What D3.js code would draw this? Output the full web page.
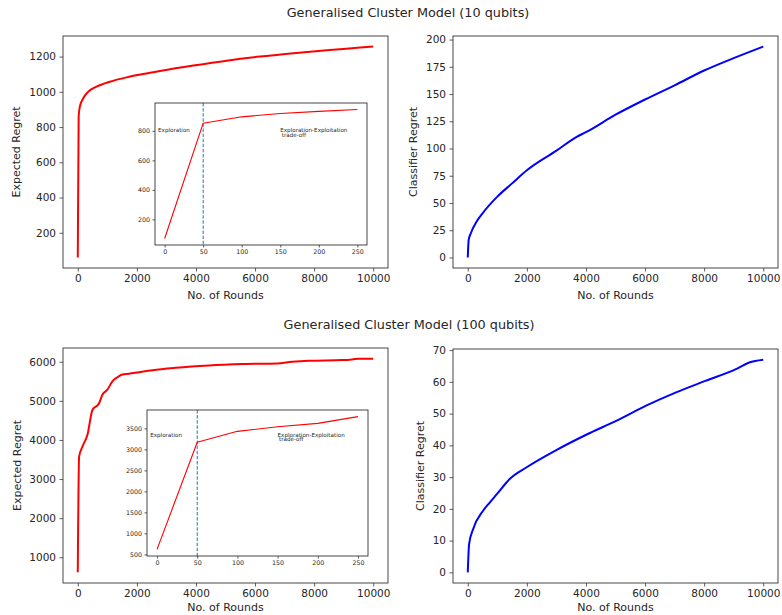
<!DOCTYPE html>
<html>
<head>
<meta charset="utf-8">
<script src="https://cdn.jsdelivr.net/npm/d3@7"></script>
<style>
    body { margin: 0; background: #fff; }
    text { font-family: "DejaVu Sans", sans-serif; fill: #262626; }
</style>
</head>
<body>
<svg id="chart" width="782" height="615"></svg>
<script>
// --- data ---
const roundsTicks = [0, 2000, 4000, 6000, 8000, 10000];

// 10 qubits, expected regret
const rounds10 = [0, 30, 68, 181, 350, 633, 1085, 1650, 2215, 2780, 3910, 5040, 6170, 7300, 8430, 9560, 10000];
const expRegret10 = [60, 860, 914, 962, 1000, 1029, 1057, 1082, 1101, 1118, 1149, 1177, 1200, 1219, 1236, 1251, 1257];
const expTicks10 = [200, 400, 600, 800, 1000, 1200];

// 10 qubits, inset (first 250 rounds)
const insetRounds10 = [0, 50, 100, 150, 200, 250];
const insetRegret10 = [70, 852, 895, 918, 932, 945];
const insetYTicks10 = [200, 400, 600, 800];

// 10 qubits, classifier regret
const clfRounds10 = [0, 30, 100, 300, 500, 1000, 1500, 2000, 3000, 3700, 4000, 5000, 6000, 7000, 8000, 9000, 10000];
const clfRegret10 = [0, 16, 22, 33, 40.5, 55.8, 68, 80, 98, 111, 115, 131, 145, 158, 171.6, 183, 193.6];
const clfTicks10 = [0, 25, 50, 75, 100, 125, 150, 175, 200];

// 100 qubits, expected regret
const rounds100 = [0, 45, 158, 327, 496, 722, 834, 1003, 1172, 1342, 1511, 1736, 2074, 2525, 3315, 4442, 5569, 6753, 7260, 7824, 8952, 9290, 9515, 10000];
const expRegret100 = [615, 3573, 3830, 4130, 4767, 4940, 5155, 5285, 5500, 5603, 5672, 5690, 5733, 5784, 5845, 5905, 5940, 5957, 6000, 6026, 6043, 6060, 6078, 6078];
const expTicks100 = [1000, 2000, 3000, 4000, 5000, 6000];

// 100 qubits, inset
const insetRounds100 = [0, 50, 100, 150, 200, 250];
const insetRegret100 = [620, 3170, 3430, 3540, 3620, 3780];
const insetYTicks100 = [500, 1000, 1500, 2000, 2500, 3000, 3500];

// 100 qubits, classifier regret
const clfRounds100 = [0, 45, 180, 518, 743, 991, 1419, 1993, 2995, 4043, 5023, 6036, 7050, 8040, 9077, 9527, 10000];
const clfRegret100 = [0, 8.9, 13.6, 19.4, 22, 24.7, 29.4, 33.1, 38.5, 43.5, 47.7, 52.5, 56.7, 60.3, 64, 66.1, 67];
const clfTicks100 = [0, 10, 20, 30, 40, 50, 60, 70];

const insetXTicks = [0, 50, 100, 150, 200, 250];
const titles = ["Generalised Cluster Model (10 qubits)", "Generalised Cluster Model (100 qubits)"];

const svg = d3.select("#chart");

// matplotlib style padding of 5% around the data
function padded(values) {
    const [lo, hi] = d3.extent(values);
    const m = (hi - lo) * 0.05;
    return [lo - m, hi + m];
}

function drawAxes(box, xDomain, yDomain, xTicks, yTicks, o) {
    const x = d3.scaleLinear().domain(xDomain).range([box.x0, box.x1]);
    const y = d3.scaleLinear().domain(yDomain).range([box.y1, box.y0]);
    const g = svg.append("g");

    g.append("rect")
        .attr("x", box.x0).attr("y", box.y0)
        .attr("width", box.x1 - box.x0).attr("height", box.y1 - box.y0)
        .attr("fill", "#fff");

    const xa = g.append("g")
        .attr("transform", `translate(0,${box.y1})`)
        .call(d3.axisBottom(x).tickValues(xTicks).tickSize(o.tick).tickPadding(o.pad).tickFormat(d3.format("d")));
    const ya = g.append("g")
        .attr("transform", `translate(${box.x0},0)`)
        .call(d3.axisLeft(y).tickValues(yTicks).tickSize(o.tick).tickPadding(o.pad).tickFormat(d3.format("d")));

    [xa, ya].forEach(a => {
        a.select(".domain").remove();
        a.attr("font-family", null).attr("font-size", null);
        a.selectAll("line").attr("stroke", "#333").attr("stroke-width", 0.8);
        a.selectAll("text").style("font-size", o.font + "px").attr("fill", "#262626");
    });

    g.append("rect")
        .attr("class", "frame")
        .attr("x", box.x0).attr("y", box.y0)
        .attr("width", box.x1 - box.x0).attr("height", box.y1 - box.y0)
        .attr("fill", "none").attr("stroke", "#333").attr("stroke-width", 0.9);

    return { x, y, g };
}

function drawLine(ax, xs, ys, color, width, curve) {
    const line = d3.line().x(d => ax.x(d[0])).y(d => ax.y(d[1])).curve(curve);
    ax.g.insert("path", ".frame")
        .datum(d3.zip(xs, ys))
        .attr("d", line)
        .attr("fill", "none")
        .attr("stroke", color)
        .attr("stroke-width", width)
        .attr("stroke-linejoin", "round");
}

function drawPanel(box, xs, ys, yTicks, color, yLabel, yLabelX, xLabelY) {
    const ax = drawAxes(box, padded(xs), padded(ys), roundsTicks, yTicks,
        { tick: 3.5, pad: 3.5, font: 10.5 });
    drawLine(ax, xs, ys, color, 2, d3.curveMonotoneX);

    ax.g.append("text")
        .attr("x", (box.x0 + box.x1) / 2)
        .attr("y", xLabelY)
        .attr("text-anchor", "middle")
        .style("font-size", "11px")
        .text("No. of Rounds");

    ax.g.append("text")
        .attr("transform", `translate(${yLabelX},${(box.y0 + box.y1) / 2}) rotate(-90)`)
        .attr("text-anchor", "middle")
        .style("font-size", "11px")
        .text(yLabel);
    return ax;
}

function drawInset(box, xs, ys, yTicks, labelY, lineGap) {
    const ax = drawAxes(box, padded(xs), padded(ys), insetXTicks, yTicks,
        { tick: 2.5, pad: 2.5, font: 6.3 });

    ax.g.insert("line", ".frame")
        .attr("x1", ax.x(50)).attr("x2", ax.x(50))
        .attr("y1", box.y0).attr("y2", box.y1)
        .attr("stroke", "#1f77b4")
        .attr("stroke-width", 1)
        .attr("stroke-dasharray", "3.5,1.6");

    drawLine(ax, xs, ys, "red", 1.1, d3.curveLinear);

    ax.g.append("text")
        .attr("x", ax.x(-8.5)).attr("y", ax.y(labelY))
        .style("font-size", "5.6px")
        .text("Exploration");
    ax.g.append("text")
        .attr("x", ax.x(150)).attr("y", ax.y(labelY))
        .style("font-size", "5.6px")
        .text("Exploration-Exploitation");
    ax.g.append("text")
        .attr("x", ax.x(150) + 1.5).attr("y", ax.y(labelY) + lineGap)
        .style("font-size", "5.6px")
        .text("trade-off");
}

// titles
svg.append("text").attr("x", 408).attr("y", 17).attr("text-anchor", "middle")
    .style("font-size", "12.8px").text(titles[0]);
svg.append("text").attr("x", 409).attr("y", 329).attr("text-anchor", "middle")
    .style("font-size", "12.8px").text(titles[1]);

// 10 qubits
drawPanel({ x0: 63, x1: 388, y0: 36, y1: 268 }, rounds10, expRegret10, expTicks10,
    "red", "Expected Regret", 20, 299);
drawInset({ x0: 155, x1: 367, y0: 103, y1: 245 }, insetRounds10, insetRegret10, insetYTicks10, 792, 5);
drawPanel({ x0: 453, x1: 778, y0: 36, y1: 268 }, clfRounds10, clfRegret10, clfTicks10,
    "blue", "Classifier Regret", 417, 299);

// 100 qubits
drawPanel({ x0: 63, x1: 388, y0: 348, y1: 583 }, rounds100, expRegret100, expTicks100,
    "red", "Expected Regret", 21, 611);
drawInset({ x0: 147, x1: 368, y0: 410, y1: 556 }, insetRounds100, insetRegret100, insetYTicks100, 3300, 4.5);
drawPanel({ x0: 453, x1: 778, y0: 349, y1: 583 }, clfRounds100, clfRegret100, clfTicks100,
    "blue", "Classifier Regret", 424, 611);
</script>
</body>
</html>
